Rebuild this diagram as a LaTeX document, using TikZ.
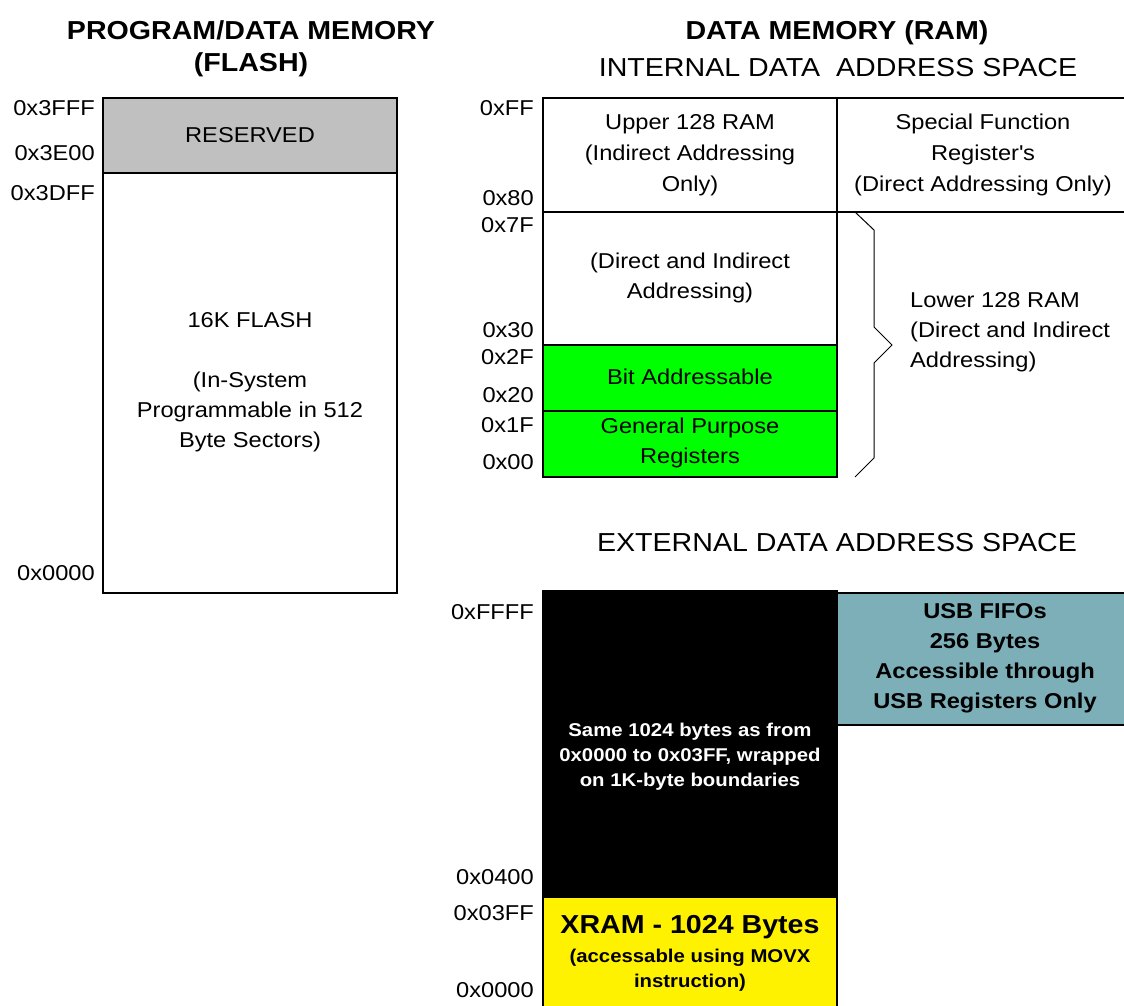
\documentclass[tikz,border=0pt]{standalone}
\usepackage{fontspec}
\setmainfont[FakeStretch=1.1]{Liberation Sans}
\definecolor{resgray}{RGB}{192,192,192}
\definecolor{regreen}{RGB}{0,255,0}
\definecolor{usbblue}{RGB}{125,175,185}
\begin{document}
\begin{tikzpicture}[x=1pt,y=-1pt,
  box/.style={draw=black,line width=1.8pt},
  txt/.style={align=center,inner sep=0pt,font=\fontsize{21.5}{31}\selectfont},
  addr/.style={anchor=east,inner sep=0pt,font=\fontsize{21.5}{26}\selectfont},
  head/.style={align=center,inner sep=0pt,font=\bfseries\fontsize{26}{32}\selectfont},
  subhead/.style={inner sep=0pt,font=\fontsize{26}{32}\selectfont}]
\useasboundingbox (0,0) rectangle (1124,1005);
\clip (0,0) rectangle (1124,1005);
% program / data memory (flash)
\node[head] (flashtitle) at (251,49) {PROGRAM/DATA MEMORY\\(FLASH)};
\draw[box,fill=resgray] (103,98) rectangle (397,173);
\draw[box] (103,173) rectangle (397,593);
\node[txt] (reserved) at (250,135) {RESERVED};
\node[txt,font=\fontsize{21.5}{30}\selectfont] (flash) at (250,382) {16K FLASH\\[30pt](In-System\\Programmable in 512\\Byte Sectors)};
\node[addr] (f3fff) at (95,108) {0x3FFF};
\node[addr] (f3e00) at (95,153) {0x3E00};
\node[addr] (f3dff) at (95,193) {0x3DFF};
\node[addr] (f0000) at (95,573) {0x0000};
% data memory (ram), internal
\node[head] (ramtitle) at (837,33) {DATA MEMORY (RAM)};
\node[subhead] (inttitle) at (838,68) {INTERNAL DATA \ ADDRESS SPACE};
\draw[box] (543,98) rectangle (837,212);
\draw[box] (837,98) rectangle (1130,212);
\draw[box] (543,212) rectangle (837,345);
\draw[box,fill=regreen] (543,345) rectangle (837,411);
\draw[box,fill=regreen] (543,411) rectangle (837,477);
\node[txt] (upper) at (690,155) {Upper 128 RAM\\(Indirect Addressing\\Only)};
\node[txt] (sfr) at (983,155) {Special Function\\Register\textquotesingle s\\(Direct Addressing Only)};
\node[txt,font=\fontsize{21.5}{30}\selectfont] (direct) at (690,278) {(Direct and Indirect\\Addressing)};
\node[txt] (bitaddr) at (690,377) {Bit Addressable};
\node[txt,font=\fontsize{21.5}{30}\selectfont] (gpreg) at (690,443) {General Purpose\\Registers};
\node[addr] (iff) at (534,108) {0xFF};
\node[addr] (i80) at (534,198) {0x80};
\node[addr] (i7f) at (534,225) {0x7F};
\node[addr] (i30) at (534,330) {0x30};
\node[addr] (i2f) at (534,357) {0x2F};
\node[addr] (i20) at (534,395) {0x20};
\node[addr] (i1f) at (534,425) {0x1F};
\node[addr] (i00) at (534,462) {0x00};
\draw[line width=1pt] (855,212) -- (874,230) -- (874,327) -- (892,345) -- (874,363) -- (874,458) -- (855,477);
\node[txt,align=left,anchor=west,font=\fontsize{21.5}{30}\selectfont] (lower) at (910,332) {Lower 128 RAM\\(Direct and Indirect\\Addressing)};
% external data
\node[subhead] (exttitle) at (837,543) {EXTERNAL DATA ADDRESS SPACE};
\draw[box,fill=black] (543,591) rectangle (837,897);
\draw[box,fill=usbblue] (837,593) rectangle (1130,725);
\draw[box,fill=yellow] (543,897) rectangle (837,1012);
\node[txt,text=white,font=\bfseries\fontsize{18.5}{25}\selectfont] (wrap) at (690,757) {Same 1024 bytes as from\\0x0000 to 0x03FF, wrapped\\on 1K-byte boundaries};
\node[txt,font=\bfseries\fontsize{21.5}{30}\selectfont] (fifo) at (985,658) {USB FIFOs\\256 Bytes\\Accessible through\\USB Registers Only};
\node[txt,font=\bfseries\fontsize{26}{30}\selectfont] (xram) at (690,927) {XRAM - 1024 Bytes};
\node[txt,font=\bfseries\fontsize{18.5}{25}\selectfont] (movx) at (690,970) {(accessable using MOVX\\instruction)};
\node[addr] (xffff) at (534,612) {0xFFFF};
\node[addr] (x0400) at (534,877) {0x0400};
\node[addr] (x03ff) at (534,913) {0x03FF};
\node[addr] (x0000) at (534,990) {0x0000};
\end{tikzpicture}
\end{document}
